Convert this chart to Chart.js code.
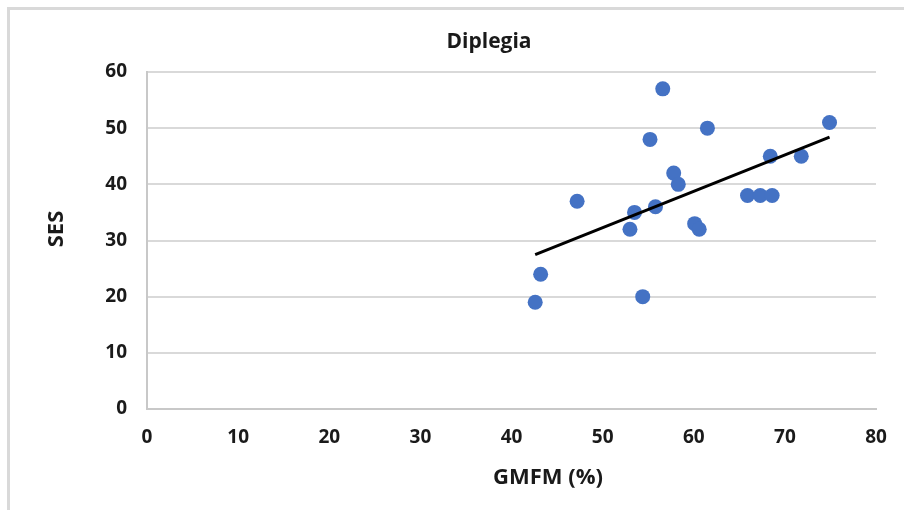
<!DOCTYPE html>
<html>
<head>
<meta charset="utf-8">
<script src="https://cdn.jsdelivr.net/npm/chart.js@4/dist/chart.umd.min.js"></script>
<style>
html,body{margin:0;padding:0;background:#fff;overflow:hidden;width:904px;height:510px}
#marco{position:absolute;left:7px;top:7px;width:1000px;height:600px;border-left:3px solid #d9d9d9;border-top:3px solid #d9d9d9}
#caja{position:absolute;left:0;top:0;width:904px;height:510px}
</style>
</head>
<body>
<div id="marco"></div>
<div id="caja"><canvas id="myChart"></canvas></div>
<script>
//datos (GMFM en %, SES)
var gmfm = [42.6, 43.2, 47.2, 53.0, 53.5, 54.4, 55.2, 55.8, 56.6, 57.8, 58.3, 60.1, 60.6, 61.5, 65.9, 67.3, 68.6, 68.4, 71.8, 74.9];
var ses  = [19, 24, 37, 32, 35, 20, 48, 36, 57, 42, 40, 33, 32, 50, 38, 38, 38, 45, 45, 51];

//rangos de los ejes
var xMin = 0, xMax = 80, xStep = 10;
var yMin = 0, yMax = 60, yStep = 10;

//textos
var titulo = "Diplegia";
var tituloX = "GMFM (%)";
var tituloY = "SES";

var texto = "#1a1a1a";
var azul = "#4472C4";

//puntos para la grafica
var puntos = [];
for (var i = 0; i < gmfm.length; i++) {
    puntos.push({x: gmfm[i], y: ses[i]});
}

//linea de tendencia (minimos cuadrados)
var mx = 0, my = 0;
for (i = 0; i < gmfm.length; i++) { mx += gmfm[i]; my += ses[i]; }
mx /= gmfm.length; my /= ses.length;
var sxy = 0, sxx = 0;
for (i = 0; i < gmfm.length; i++) {
    sxy += (gmfm[i] - mx) * (ses[i] - my);
    sxx += (gmfm[i] - mx) * (gmfm[i] - mx);
}
var pendiente = sxy / sxx;
var corte = my - pendiente * mx;
var x0 = Math.min.apply(null, gmfm), x1 = Math.max.apply(null, gmfm);
var tendencia = [
    {x: x0, y: corte + pendiente * x0},
    {x: x1, y: corte + pendiente * x1}
];

//titulos dibujados a mano
var titulos = {
    id: "titulos",
    afterDraw: function(chart) {
        var c = chart.ctx;
        c.save();
        c.fillStyle = texto;
        c.textAlign = "center";
        c.textBaseline = "middle";
        c.font = "bold 21px 'Open Sans'";
        c.fillText(titulo, 489, 42);
        c.font = "bold 22px 'Open Sans'";
        c.fillText(tituloX, 548, 478);
        c.translate(57, 229);
        c.rotate(-Math.PI / 2);
        c.fillText(tituloY, 0, 0);
        c.restore();
    }
};

var fuenteEje = {family: "'Open Sans'", size: 19, weight: "bold"};

var ctx = document.getElementById("myChart").getContext("2d");
var myChart = new Chart(ctx, {
    type: "scatter",
    data: {
        datasets: [{
            label: "Diplegia",
            data: puntos,
            backgroundColor: azul,
            borderColor: azul,
            borderWidth: 0,
            pointRadius: 7.5,
            order: 2
        }, {
            label: "Tendencia",
            data: tendencia,
            showLine: true,
            borderColor: "#000",
            borderWidth: 3,
            pointRadius: 0,
            fill: false,
            order: 1
        }]
    },
    options: {
        responsive: true,
        maintainAspectRatio: false,
        animation: false,
        layout: {padding: {top: 72, right: 28, bottom: 0, left: 0}},
        plugins: {
            legend: {display: false},
            tooltip: {enabled: false}
        },
        scales: {
            x: {
                type: "linear",
                min: xMin, max: xMax,
                ticks: {stepSize: xStep, color: texto, padding: 17, font: fuenteEje},
                grid: {display: false, drawTicks: false},
                border: {color: "#c8c8c8", width: 2},
                afterFit: function(s) { s.height = 101; }
            },
            y: {
                min: yMin, max: yMax,
                ticks: {stepSize: yStep, color: texto, padding: 20, font: fuenteEje},
                grid: {color: "#d9d9d9", lineWidth: 2, drawTicks: false},
                border: {color: "#c8c8c8", width: 2},
                afterFit: function(s) { s.width = 147; }
            }
        }
    },
    plugins: [titulos]
});
</script>
</body>
</html>
